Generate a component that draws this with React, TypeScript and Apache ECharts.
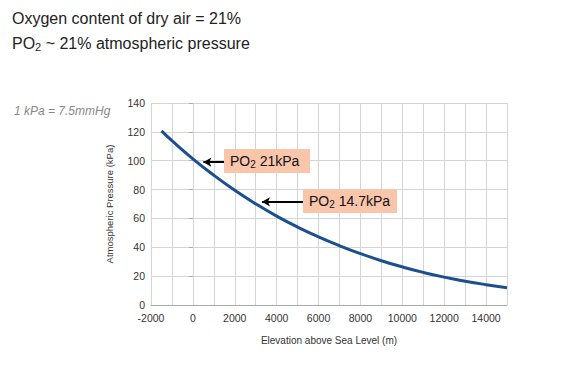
import React, { useEffect, useRef } from "react";
import * as echarts from "echarts";

const elevations = [-1500, -1000, 0, 1000, 2000, 3000, 4000, 5000, 6000, 7000, 8000, 9000, 10000, 11000, 12000, 13000, 14000, 15000];
const pressures = [120.7, 113.9, 101.3, 89.9, 79.5, 70.1, 61.6, 54.0, 47.2, 41.1, 35.6, 30.7, 26.4, 22.6, 19.3, 16.5, 14.1, 12.0];
const annotations = [
  { label: "21kPa", from: [1500, 99], to: [500, 99] },
  { label: "14.7kPa", from: [5270, 71.5], to: [3300, 71.5] },
];

export default function App() {
  const ref = useRef<HTMLDivElement>(null);
  useEffect(() => {
    const chart = echarts.init(ref.current!, null, { renderer: "svg" });
    const font = "Liberation Sans, Arial, sans-serif";
    const boxStyle = { fill: "#f9c6ac" };
    chart.setOption({
      animation: false,
      backgroundColor: "#ffffff",
      grid: { left: 151, right: 75, top: 103, bottom: 78 },
      xAxis: {
        type: "value",
        min: -2000,
        max: 15000,
        interval: 1000,
        name: "Elevation above Sea Level (m)",
        nameLocation: "middle",
        nameGap: 30,
        nameTextStyle: { fontSize: 10, color: "#333", fontFamily: font },
        axisLine: { show: true, lineStyle: { color: "#aaa" } },
        axisTick: { show: false },
        axisLabel: {
          fontSize: 10.5,
          color: "#333",
          fontFamily: font,
          margin: 7,
          formatter: (v: number) => (v % 2000 === 0 && v < 15000 ? String(v) : ""),
        },
        splitLine: { show: true, lineStyle: { color: "#d4d4d4" } },
      },
      yAxis: {
        type: "value",
        min: 0,
        max: 140,
        interval: 20,
        name: "Atmospheric Pressure (kPa)",
        nameLocation: "middle",
        nameGap: 37,
        nameTextStyle: { fontSize: 9.5, color: "#333", fontFamily: font },
        axisLine: { show: false },
        axisTick: { show: true, length: 4, lineStyle: { color: "#aaa" } },
        axisLabel: { fontSize: 10.5, color: "#333", fontFamily: font, margin: 6 },
        splitLine: { show: true, lineStyle: { color: "#d4d4d4" } },
      },
      series: [
        {
          type: "line",
          data: elevations.map((e, i) => [e, pressures[i]]),
          smooth: true,
          showSymbol: false,
          z: 3,
          lineStyle: { color: "#1c4f8f", width: 3 },
          markLine: {
            silent: true,
            symbol: ["none", "arrow"],
            symbolSize: [7, 8],
            label: { show: false },
            lineStyle: { color: "#000", width: 2, type: "solid" },
            data: annotations.map((a) => [
              { coord: a.from },
              { coord: a.to },
            ]),
          },
        },
      ],
      graphic: [
        {
          type: "text",
          left: 12,
          top: 10,
          style: {
            text: "Oxygen content of dry air = 21%",
            fontSize: 16,
            fill: "#222",
            fontFamily: font,
          },
        },
        {
          type: "text",
          left: 12,
          top: 35,
          style: {
            text: "{m|PO}{s|2}{m| ~ 21% atmospheric pressure}",
            fill: "#222",
            fontFamily: font,
            rich: {
              m: { fontSize: 16, fontFamily: font, fill: "#222", height: 18 },
              s: { fontSize: 11, fontFamily: font, fill: "#222", padding: [8, 0, 0, 0] },
            },
          },
        },
        {
          type: "text",
          left: 14,
          top: 105,
          style: {
            text: "1 kPa = 7.5mmHg",
            fontSize: 12,
            fontStyle: "italic",
            fill: "#888",
            fontFamily: font,
          },
        },
        { type: "rect", z: 100, shape: { x: 224, y: 149, width: 86, height: 24 }, style: boxStyle },
        {
          type: "text",
          z: 101,
          x: 230,
          y: 161,
          style: {
            text: "{m|PO}{s|2}{m| " + annotations[0].label + "}",
            verticalAlign: "middle",
            rich: {
              m: { fontSize: 14, fontFamily: font, fill: "#111" },
              s: { fontSize: 10, fontFamily: font, fill: "#111", padding: [6, 0, 0, 0] },
            },
          },
        },
        { type: "rect", z: 100, shape: { x: 303, y: 189, width: 94, height: 24 }, style: boxStyle },
        {
          type: "text",
          z: 101,
          x: 309,
          y: 201,
          style: {
            text: "{m|PO}{s|2}{m| " + annotations[1].label + "}",
            verticalAlign: "middle",
            rich: {
              m: { fontSize: 14, fontFamily: font, fill: "#111" },
              s: { fontSize: 10, fontFamily: font, fill: "#111", padding: [6, 0, 0, 0] },
            },
          },
        },
      ],
    });
    return () => chart.dispose();
  }, []);
  return <div ref={ref} style={{ width: 582, height: 383, position: "absolute", left: 0, top: 0 }} />;
}
